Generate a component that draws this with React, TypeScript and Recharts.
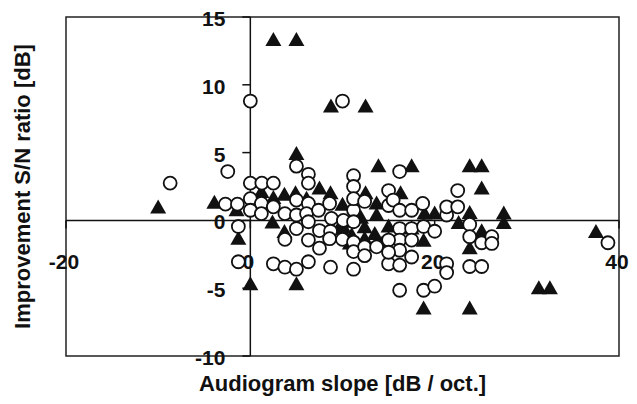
import React from "react";
import {
  ScatterChart,
  Scatter,
  XAxis,
  YAxis,
  ReferenceLine,
  ReferenceArea,
  ReferenceDot,
} from "recharts";

// Filled triangles: [audiogram slope, improvement S/N]
const triangleSeries: [number, number][] = [
  [2.5, 13.3], [5.0, 13.3], [8.75, 8.4], [12.5, 8.4], [5.0, 4.9],
  [13.9, 4.0], [17.5, 4.0], [23.8, 4.0], [25.1, 4.0], [25.1, 2.35],
  [-10.0, 0.95], [-3.9, 1.3], [-1.3, -1.35], [0, -4.7], [5.0, -4.7],
  [37.5, -0.85], [31.3, -5.0], [32.5, -5.0], [18.8, -6.5], [23.8, -6.5],
  [27.5, 0.5], [27.5, -0.2], [3.7, 1.9], [4.9, 2.0], [6.1, 1.6],
  [7.5, 2.35], [2.5, 1.65], [-1.5, 0.75], [1.2, 2.1], [8.7, 2.0],
  [12.5, 2.0], [11.3, 1.85], [16.3, 2.0], [10.0, 1.15], [13.7, 1.25],
  [20.0, 0.5], [23.8, 0.55], [18.9, 0.5], [2.4, -0.15], [3.7, -0.85],
  [9.8, -0.6], [11.0, -1.1], [12.4, -0.5], [12.4, -1.35], [13.7, 0.4],
  [15.0, -0.45], [15.0, -1.35], [17.5, -0.6], [18.8, -1.5], [22.6, -0.2],
  [25.1, -0.8], [23.8, -2.05], [10.1, -0.5], [10.8, -1.7], [13.5, -1.0],
  [14.3, -1.7], [12.0, 0.2], [10.0, -0.1],
];

// Open circles: [audiogram slope, improvement S/N]
const circleSeries: [number, number][] = [
  [0, 8.8], [10.0, 8.8], [-2.45, 3.6], [-8.7, 2.75], [0, 2.75],
  [1.25, 2.75], [2.5, 2.75], [5.0, 4.0], [6.3, 3.4], [6.3, 2.75],
  [11.2, 3.3], [16.2, 3.6], [22.5, 2.2], [11.2, 2.5],
  [-1.3, -0.45], [-1.3, -3.05], [2.5, -3.2], [3.75, -3.45], [5.0, -3.6],
  [6.3, -3.05], [8.7, -3.45], [11.2, -3.6], [15.0, -3.2], [16.2, -3.3],
  [17.5, -2.7], [21.3, -3.2], [21.3, -3.85], [23.8, -3.4], [25.1, -3.4],
  [16.2, -5.15], [18.8, -5.15], [20.0, -4.85], [38.8, -1.65],
  [-2.7, 1.2], [-1.4, 1.2], [0, 1.6], [1.2, 1.25], [0, 0.75],
  [1.2, 0.5], [2.5, 1.0], [3.75, 0.5], [5.0, 1.5], [5.0, 0.4],
  [6.3, 1.25], [6.1, 0.5], [7.4, 0.75], [8.6, 1.25], [8.8, 0.15],
  [10.1, 0.0], [11.2, 0.75], [11.2, 1.6], [11.2, -0.1],
  [6.3, -0.1], [5.0, -0.6], [3.75, -1.4], [6.3, -1.45], [7.5, -0.75],
  [7.5, -2.05], [8.7, -0.8], [8.6, -1.35], [10.0, -1.4], [11.2, -1.6],
  [11.2, -2.3], [12.4, -1.95], [12.4, -2.6], [13.7, -1.95], [12.4, 1.4],
  [15.0, 2.2], [15.0, 1.1], [15.5, 1.5], [16.2, 0.75], [17.5, 0.75],
  [18.7, 1.25], [16.2, -0.6], [17.5, -0.6], [16.2, -1.45], [17.5, -1.45],
  [15.0, -1.45], [16.2, -2.2], [15.0, -2.35], [18.8, -0.45], [20.0, -0.8],
  [21.3, 0.4], [21.3, 1.0], [22.5, 1.0], [23.8, -0.3], [23.8, -1.2],
  [25.1, -1.65], [26.2, -1.2], [26.2, -1.7],
];

const xTicks = [-20, 0, 20, 40];
const yTicks = [15, 10, 5, 0, -5, -10];
const xTitle = "Audiogram slope [dB / oct.]";
const yTitle = "Improvement S/N ratio [dB]";

const triangleData = triangleSeries.map(([x, y]) => ({ x, y }));
const circleData = circleSeries.map(([x, y]) => ({ x, y }));

const FONT = "'Liberation Sans', Arial, Helvetica, sans-serif";

const TriangleShape = (p: any) => {
  const { cx, cy } = p;
  if (cx == null || cy == null) return <g />;
  return (
    <polygon
      points={`${cx},${cy - 8} ${cx - 8},${cy + 6} ${cx + 8},${cy + 6}`}
      fill="#111"
      stroke="none"
    />
  );
};

const CircleShape = (p: any) => {
  const { cx, cy } = p;
  if (cx == null || cy == null) return <g />;
  return <circle cx={cx} cy={cy} r={6.5} fill="#fff" stroke="#111" strokeWidth={1.8} />;
};

const YTickShape = (label: string) => (p: any) => {
  const { cx, cy } = p;
  return (
    <g>
      <line x1={cx - 8} y1={cy} x2={cx} y2={cy} stroke="#111" strokeWidth={1.5} />
      <text
        x={cx - 25}
        y={cy + 1.5}
        textAnchor="end"
        dominantBaseline="central"
        fontFamily={FONT}
        fontWeight="bold"
        fontSize={21}
        fill="#111"
      >
        {label}
      </text>
    </g>
  );
};

const XTickShape = (label: string) => (p: any) => {
  const { cx, cy } = p;
  return (
    <g>
      <line x1={cx} y1={cy} x2={cx} y2={cy + 8} stroke="#111" strokeWidth={1.5} />
      <text
        x={cx - 2}
        y={cy + 41.5}
        textAnchor="middle"
        dominantBaseline="central"
        fontFamily={FONT}
        fontWeight="bold"
        fontSize={21}
        fill="#111"
      >
        {label}
      </text>
    </g>
  );
};

export default function App() {
  return (
    <div style={{ position: "absolute", left: 0, top: 0, width: 637, height: 404, background: "#fff" }}>
      <ScatterChart
        width={637}
        height={404}
        margin={{ top: 17, right: 18, bottom: 48, left: 66 }}
      >
        <XAxis type="number" dataKey="x" domain={[-20, 40]} ticks={xTicks} hide />
        <YAxis type="number" dataKey="y" domain={[-10, 15]} ticks={yTicks} hide />
        <ReferenceArea
          x1={-20}
          x2={40}
          y1={-10}
          y2={15}
          fill="none"
          fillOpacity={0}
          stroke="#222"
          strokeWidth={1.5}
        />
        <ReferenceLine y={0} stroke="#111" strokeWidth={1.5} />
        <ReferenceLine x={0} stroke="#111" strokeWidth={1.5} />
        {yTicks.map((v) => (
          <ReferenceDot key={`y${v}`} x={0} y={v} r={0} shape={YTickShape(String(v))} />
        ))}
        {xTicks.map((v) => (
          <ReferenceDot key={`x${v}`} x={v} y={0} r={0} shape={XTickShape(String(v))} />
        ))}
        <Scatter data={triangleData} shape={TriangleShape} isAnimationActive={false} />
        <Scatter data={circleData} shape={CircleShape} isAnimationActive={false} />
      </ScatterChart>
      <svg
        width={637}
        height={404}
        style={{ position: "absolute", left: 0, top: 0, pointerEvents: "none" }}
      >
        <text
          x={22}
          y={186.5}
          transform="rotate(-90 22 186.5)"
          textAnchor="middle"
          dominantBaseline="central"
          fontFamily={FONT}
          fontWeight="bold"
          fontSize={22}
          fill="#111"
        >
          {yTitle}
        </text>
        <text
          x={342.5}
          y={383}
          textAnchor="middle"
          dominantBaseline="central"
          fontFamily={FONT}
          fontWeight="bold"
          fontSize={22}
          fill="#111"
        >
          {xTitle}
        </text>
      </svg>
    </div>
  );
}
